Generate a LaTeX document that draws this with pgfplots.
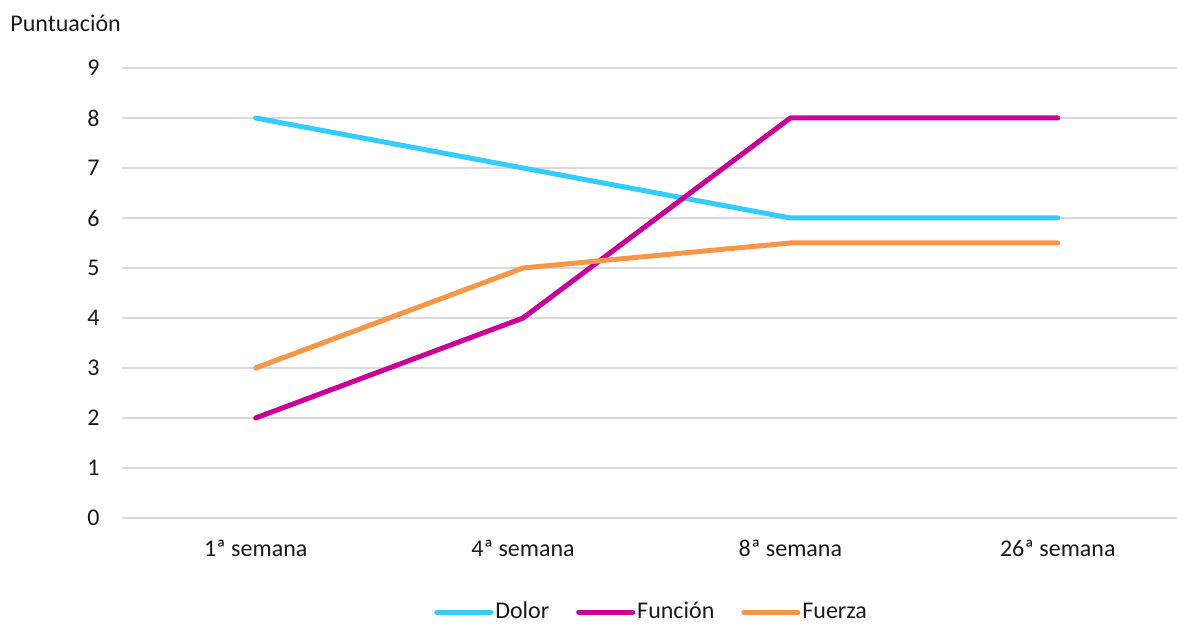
\documentclass[border=0pt]{standalone}
\usepackage{fontspec}
\setmainfont{Carlito}
\usepackage{pgfplots}
\pgfplotsset{compat=1.18}
\definecolor{dolor}{HTML}{33CCFF}
\definecolor{funcion}{HTML}{CC0099}
\definecolor{fuerza}{HTML}{F79646}
\definecolor{gridgray}{HTML}{D9D9D9}
\definecolor{txt}{HTML}{1A1A1A}
\begin{document}
\begin{tikzpicture}[x=1pt,y=1pt]
\useasboundingbox (0,0) rectangle (588.5,312);
\node[anchor=base west, inner sep=0pt, text=txt, font=\fontsize{12}{14}\selectfont] at (5,296) {Puntuación};
\begin{axis}[
  at={(61pt,53pt)}, anchor=south west,
  scale only axis, width=527.5pt, height=225pt,
  xmin=-0.5, xmax=3.446, ymin=0, ymax=9,
  xtick={0,1,2,3},
  xticklabels={1ª semana,4ª semana,8ª semana,26ª semana},
  ytick={0,1,...,9},
  axis line style={draw=none},
  major tick length=0pt,
  ymajorgrids,
  grid style={draw=gridgray, line width=0.75pt},
  tick label style={font=\fontsize{12}{14}\selectfont, text=txt},
  /pgf/number format/assume math mode=true,
  yticklabel style={anchor=east, inner sep=0pt, xshift=-11pt},
  xticklabel style={anchor=base, inner sep=0pt, yshift=-19.5pt},
  clip=false,
  every axis plot/.append style={line width=2.5pt, line cap=round, line join=round},
  legend columns=3,
  legend style={at={(0.502,-0.209)}, anchor=center, draw=none, fill=none,
    font=\fontsize{12}{14}\selectfont, text=txt, inner sep=0pt,
    /tikz/every even column/.append style={column sep=12.5pt},
    nodes={inner sep=1pt}},
  legend image code/.code={\draw[#1, line cap=round] (0pt,0pt) -- (27pt,0pt);},
]
\addplot[dolor] coordinates {(0,8) (1,7) (2,6) (3,6)};
\addlegendentry{Dolor}
\addplot[funcion] coordinates {(0,2) (1,4) (2,8) (3,8)};
\addlegendentry{Función}
\addplot[fuerza] coordinates {(0,3) (1,5) (2,5.5) (3,5.5)};
\addlegendentry{Fuerza}
\end{axis}
\end{tikzpicture}
\end{document}
